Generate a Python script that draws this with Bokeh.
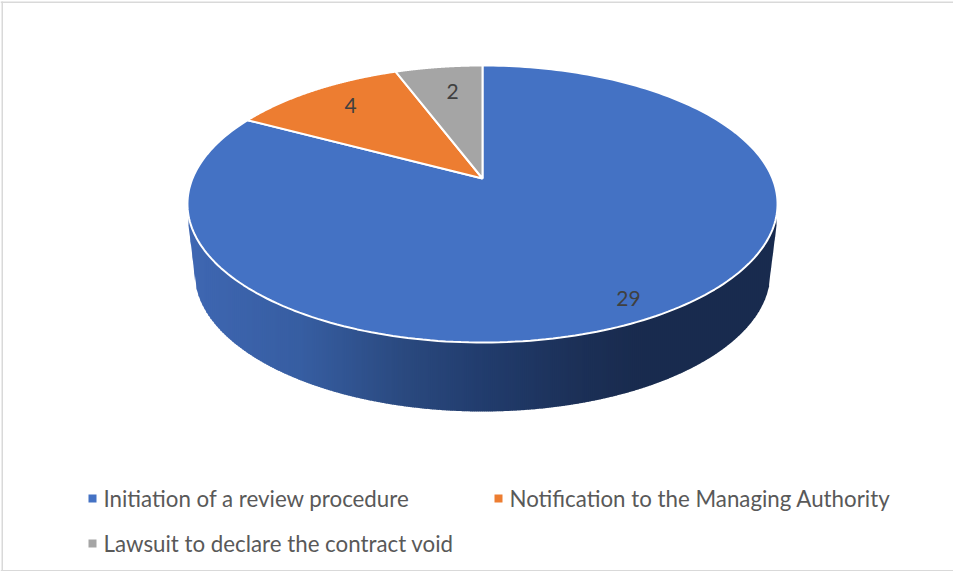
import numpy as np
from bokeh.plotting import figure
from bokeh.embed import file_html
from bokeh.resources import INLINE
from bokeh.core.properties import value

categories = ["Initiation of a review procedure", "Notification to the Managing Authority", "Lawsuit to declare the contract void"]
values = [29, 4, 2]
colors = ["#4472C4", "#ED7D31", "#A5A5A5"]

# geometry of the perspective disc (picture pixels)
CX, CY = 482.0, 178.0
K = 0.184; A = 133.8; B = 290.0
BOT_CY, BOT_RX, BOT_RY = 272.0, 288.0, 139.0
EDGE_L, EDGE_R, EDGE_Y = 188.0, 776.0, 225.0
LABEL_XY = [(628, 298), (350, 105), (452, 91)]
LEGEND_XY = [(92, 498), (498, 498), (92, 543)]
TEXT_DX = 11
W, H = 953, 571

GRAD_X = [190, 300, 400, 480, 580, 640, 780]
GRAD_R = [0x3f, 0x37, 0x2b, 0x22, 0x1c, 0x19, 0x18]
GRAD_G = [0x67, 0x5e, 0x4a, 0x3d, 0x30, 0x2b, 0x2b]
GRAD_B = [0xb2, 0xa2, 0x80, 0x6e, 0x57, 0x4e, 0x4e]


def project(theta):
    """theta: clockwise angle from 12 o'clock on the unit circle."""
    x, y = np.sin(theta), np.cos(theta)
    d = 1 + K * y
    return CX + B * x / d, CY - A * y / d


p = figure(width=W, height=H, x_range=(0, W), y_range=(H, 0),
           output_backend="svg", toolbar_location=None, min_border=0,
           outline_line_color=None, background_fill_color="white")
p.axis.visible = False
p.grid.visible = False

# chart frame
p.quad(left=[0], right=[W], top=[1], bottom=[2.5], fill_color="#d9d9d9", line_color=None)
p.quad(left=[1], right=[2.5], top=[1], bottom=[H], fill_color="#d9d9d9", line_color=None)
p.quad(left=[0], right=[W], top=[H - 1.5], bottom=[H], fill_color="#d9d9d9", line_color=None)

# side wall, column by column
t = np.linspace(0, 2 * np.pi, 1441)
dx, dy = project(t)
lower = dy > 205
order = np.argsort(dx[lower])
low_x, low_y = dx[lower][order], dy[lower][order]


def base_edge(x):
    x = np.asarray(x, dtype=float)
    e = np.sqrt(np.clip(1 - ((x - CX) / BOT_RX) ** 2, 0, 1))
    y = BOT_CY + BOT_RY * e
    left = x < CX - BOT_RX
    right = x > CX + BOT_RX
    y[left] = np.interp(x[left], [EDGE_L, CX - BOT_RX], [EDGE_Y, BOT_CY])
    y[right] = np.interp(x[right], [CX + BOT_RX, EDGE_R], [BOT_CY, EDGE_Y])
    return y


xs = np.arange(EDGE_L, EDGE_R, 2.0)
x2 = np.minimum(xs + 2.6, EDGE_R)
r = np.interp(xs, GRAD_X, GRAD_R); g = np.interp(xs, GRAD_X, GRAD_G); b = np.interp(xs, GRAD_X, GRAD_B)
strip_colors = ["#%02x%02x%02x" % (int(a), int(c), int(d)) for a, c, d in zip(r, g, b)]
ya1, ya2 = np.interp(xs, low_x, low_y), np.interp(x2, low_x, low_y)
yb1, yb2 = base_edge(xs), base_edge(x2)
strip_x = [[a, c, c, a] for a, c in zip(xs, x2)]
strip_y = [[u, v, w, z] for u, v, w, z in zip(ya1, ya2, yb2, yb1)]
p.patches(strip_x, strip_y, fill_color=strip_colors, line_color=None)

# top slices
fractions = np.cumsum([0] + values) / sum(values)
slice_x, slice_y = [], []
for i in range(len(values)):
    th = np.linspace(fractions[i], fractions[i + 1], 240) * 2 * np.pi
    ax, ay = project(th)
    slice_x.append(np.r_[CX, ax].tolist())
    slice_y.append(np.r_[CY, ay].tolist())
p.patches(slice_x, slice_y, fill_color=colors, line_color="white", line_width=2)

# value labels
p.text([q[0] for q in LABEL_XY], [q[1] for q in LABEL_XY], text=[str(v) for v in values],
       text_font=value("Lato"), text_font_size="21px", text_color="#404040",
       text_align="center", text_baseline="middle")

# legend
p.scatter([q[0] for q in LEGEND_XY], [q[1] for q in LEGEND_XY], marker="square", size=8,
          fill_color=colors, line_color=None)
p.text([q[0] + TEXT_DX for q in LEGEND_XY], [q[1] for q in LEGEND_XY], text=categories,
       text_font=value("Lato"), text_font_size="22.3px", text_color="#595959",
       text_align="left", text_baseline="middle")

open("out.html", "w").write(file_html(p, INLINE))
